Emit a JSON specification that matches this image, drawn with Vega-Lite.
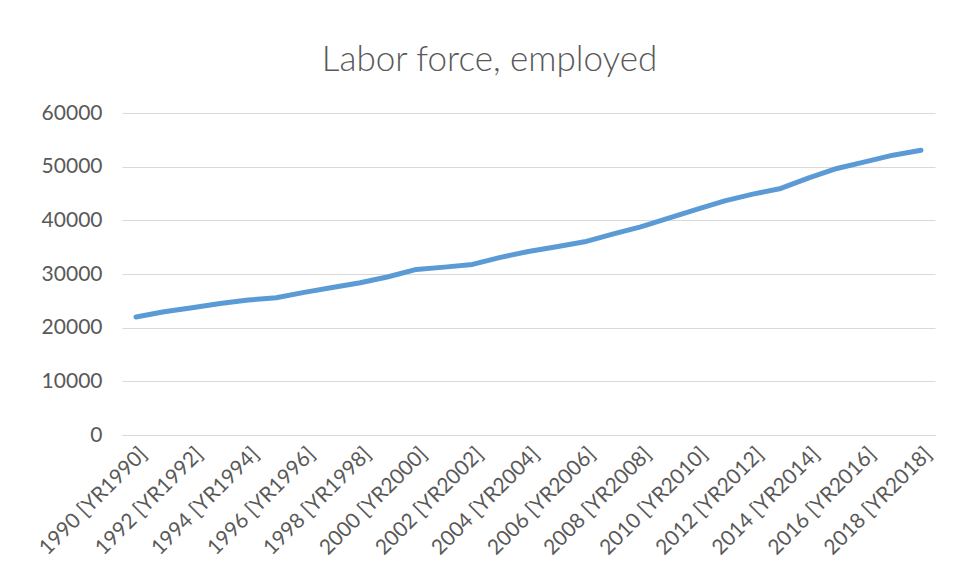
{
  "$schema": "https://vega.github.io/schema/vega-lite/v6.json",
  "width": 813,
  "height": 322,
  "autosize": {"type": "none"},
  "padding": {"left": 122, "top": 113, "right": 23, "bottom": 147},
  "background": "white",
  "title": {
    "text": "Labor force, employed",
    "font": "Lato",
    "fontSize": 35,
    "fontWeight": 300,
    "color": "#595959",
    "anchor": "middle",
    "frame": "group",
    "baseline": "alphabetic",
    "offset": 41,
    "dx": -39,
    "dy": 45
  },
  "data": {
    "values": [
      {"year": "1990 [YR1990]", "value": 22000},
      {"year": "1991 [YR1991]", "value": 22960},
      {"year": "1992 [YR1992]", "value": 23700},
      {"year": "1993 [YR1993]", "value": 24520},
      {"year": "1994 [YR1994]", "value": 25140},
      {"year": "1995 [YR1995]", "value": 25570},
      {"year": "1996 [YR1996]", "value": 26570},
      {"year": "1997 [YR1997]", "value": 27500},
      {"year": "1998 [YR1998]", "value": 28360},
      {"year": "1999 [YR1999]", "value": 29480},
      {"year": "2000 [YR2000]", "value": 30850},
      {"year": "2001 [YR2001]", "value": 31280},
      {"year": "2002 [YR2002]", "value": 31780},
      {"year": "2003 [YR2003]", "value": 33100},
      {"year": "2004 [YR2004]", "value": 34200},
      {"year": "2005 [YR2005]", "value": 35070},
      {"year": "2006 [YR2006]", "value": 36000},
      {"year": "2007 [YR2007]", "value": 37430},
      {"year": "2008 [YR2008]", "value": 38790},
      {"year": "2009 [YR2009]", "value": 40410},
      {"year": "2010 [YR2010]", "value": 42030},
      {"year": "2011 [YR2011]", "value": 43630},
      {"year": "2012 [YR2012]", "value": 44880},
      {"year": "2013 [YR2013]", "value": 45940},
      {"year": "2014 [YR2014]", "value": 47920},
      {"year": "2015 [YR2015]", "value": 49660},
      {"year": "2016 [YR2016]", "value": 50900},
      {"year": "2017 [YR2017]", "value": 52140},
      {"year": "2018 [YR2018]", "value": 53070}
    ]
  },
  "mark": {"type": "line", "color": "#5B9BD5", "strokeWidth": 5, "strokeCap": "round", "strokeJoin": "round"},
  "encoding": {
    "x": {
      "field": "year",
      "type": "ordinal",
      "scale": {"type": "band", "paddingInner": 0, "paddingOuter": 0},
      "axis": {
        "title": null,
        "values": ["1990 [YR1990]", "1992 [YR1992]", "1994 [YR1994]", "1996 [YR1996]", "1998 [YR1998]", "2000 [YR2000]", "2002 [YR2002]", "2004 [YR2004]", "2006 [YR2006]", "2008 [YR2008]", "2010 [YR2010]", "2012 [YR2012]", "2014 [YR2014]", "2016 [YR2016]", "2018 [YR2018]"],
        "labelAngle": -45,
        "labelFont": "Lato",
        "labelFontSize": 21,
        "labelColor": "#595959",
        "ticks": false,
        "domain": true,
        "domainColor": "#D9D9D9",
        "labelPadding": 8,
        "grid": false
      }
    },
    "y": {
      "field": "value",
      "type": "quantitative",
      "scale": {"domain": [0, 60000], "nice": false},
      "axis": {
        "title": null,
        "values": [0, 10000, 20000, 30000, 40000, 50000, 60000],
        "format": "d",
        "labelFont": "Lato",
        "labelFontSize": 21,
        "labelColor": "#595959",
        "ticks": false,
        "domain": false,
        "grid": true,
        "gridColor": "#D9D9D9",
        "gridWidth": 1,
        "labelPadding": 20
      }
    }
  },
  "config": {"view": {"stroke": null}}
}
